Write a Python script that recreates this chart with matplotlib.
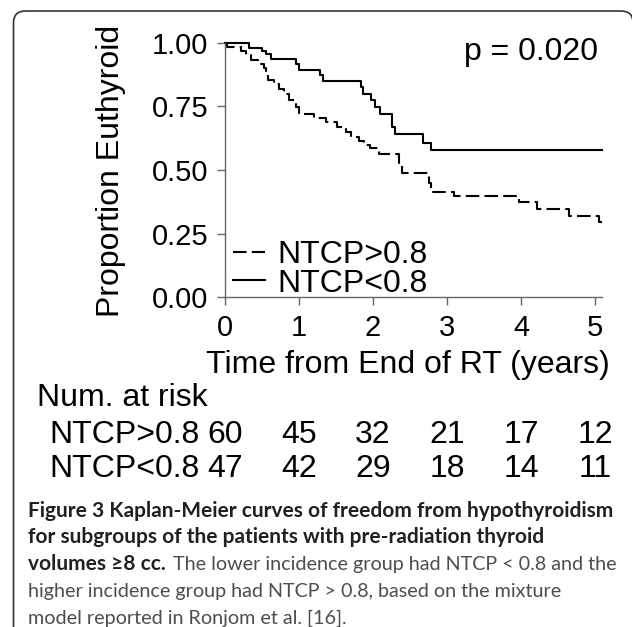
import numpy as np
import matplotlib
matplotlib.use("Agg")
import matplotlib.pyplot as plt
from matplotlib.patches import FancyBboxPatch
from matplotlib.transforms import blended_transform_factory

plt.rcParams['font.family'] = ['Liberation Sans', 'DejaVu Sans']

# -------------------------------
# Data
# -------------------------------

# NTCP<0.8 (solid), step times in years and survival after each step
t_low = [0.0, 0.33, 0.50, 0.55, 0.62, 0.96, 1.00, 1.28, 1.33, 1.84, 1.87,
         1.97, 2.03, 2.10, 2.25, 2.30, 2.68, 2.78, 5.09]
s_low = [1.0, 0.980, 0.968, 0.957, 0.936, 0.915, 0.894, 0.872, 0.851, 0.826,
         0.800, 0.774, 0.747, 0.718, 0.670, 0.640, 0.608, 0.577, 0.577]

# NTCP>0.8 (dashed)
t_high = [0.0, 0.03, 0.21, 0.28, 0.35, 0.44, 0.53, 0.55, 0.575, 0.665, 0.73,
          0.80, 0.87, 0.96, 1.00, 1.205, 1.36, 1.52, 1.63, 1.70, 1.81, 1.88,
          1.96, 2.08, 2.35, 2.39, 2.76, 2.78, 3.10, 3.97, 4.22, 4.65, 5.05, 5.09]
s_high = [1.0, 0.985, 0.967, 0.950, 0.933, 0.917, 0.900, 0.875, 0.852, 0.837,
          0.820, 0.800, 0.773, 0.747, 0.720, 0.706, 0.689, 0.669, 0.650, 0.630,
          0.613, 0.600, 0.585, 0.562, 0.527, 0.490, 0.450, 0.415, 0.396, 0.374,
          0.347, 0.320, 0.294, 0.294]

risk_times = [0, 1, 2, 3, 4, 5]
risk_high = [60, 45, 32, 21, 17, 12]
risk_low = [47, 42, 29, 18, 14, 11]

x_ticks = [0, 1, 2, 3, 4, 5]
y_ticks = [0.0, 0.25, 0.5, 0.75, 1.0]

label_high = "NTCP>0.8"
label_low = "NTCP<0.8"
p_text = "p = 0.020"

caption_bold_1 = "Figure 3 Kaplan-Meier curves of freedom from hypothyroidism"
caption_bold_2 = "for subgroups of the patients with pre-radiation thyroid"
caption_bold_3 = "volumes \u22658 cc."
caption_reg_3 = "The lower incidence group had NTCP < 0.8 and the"
caption_reg_4 = "higher incidence group had NTCP > 0.8, based on the mixture"
caption_reg_5 = "model reported in Ronjom et al. [16]."

# -------------------------------
# Figure / axes
# -------------------------------

W, H = 632, 627
fig = plt.figure(figsize=(W / 100, H / 100), dpi=100, facecolor='white')

def fx(px):
    return px / W

def fy(py):
    return 1 - py / H

FS = 23  # main text size

ax_left, ax_right = 225, 602.4
ax_top, ax_bottom = 42.7, 297.3
ax = fig.add_axes([fx(ax_left), fy(ax_bottom), fx(ax_right - ax_left),
                   (ax_bottom - ax_top) / H])

ax.plot(t_high, s_high, drawstyle='steps-post', color='black', lw=1.5,
        linestyle=(0, (6.5, 2.5)), clip_on=False, label=label_high)
ax.plot(t_low, s_low, drawstyle='steps-post', color='black', lw=1.5,
        clip_on=False, label=label_low)

ax.set_xlim(0, 5.1)
ax.set_ylim(0, 1.0)
ax.set_xticks(x_ticks)
ax.set_yticks(y_ticks)
ax.set_yticklabels([f"{v:.2f}" for v in y_ticks])

for side in ['top', 'right']:
    ax.spines[side].set_visible(False)
for side in ['left', 'bottom']:
    ax.spines[side].set_color('#666666')
    ax.spines[side].set_linewidth(1.0)

ax.tick_params(axis='both', direction='out', length=5.8, width=1.0,
               color='#666666', labelcolor='black', labelsize=21)
ax.tick_params(axis='x', pad=6.5)
ax.tick_params(axis='y', pad=6)

leg = ax.legend(loc='lower left', bbox_to_anchor=(0.021, -0.005),
                frameon=False, fontsize=FS, handlelength=1.0,
                handletextpad=0.38, labelspacing=-0.05, borderpad=0.0,
                borderaxespad=0.0)

# labels
fig.text(fx(111.5), fy(170.5), "Proportion Euthyroid", rotation=90,
         ha='center', va='center', fontsize=FS)
fig.text(fx(407.5), fy(373.3), "Time from End of RT (years)",
         ha='center', va='baseline', fontsize=FS)
fig.text(fx(598), fy(60), p_text, ha='right', va='baseline', fontsize=FS)

# number at risk table
fig.text(fx(37), fy(406), "Num. at risk", ha='left', va='baseline',
         fontsize=FS)
fig.text(fx(49), fy(443), label_high, ha='left', va='baseline', fontsize=FS)
fig.text(fx(49), fy(477), label_low, ha='left', va='baseline', fontsize=FS)
trans = blended_transform_factory(ax.transData, fig.transFigure)
for t, n in zip(risk_times, risk_high):
    ax.text(t, fy(443), str(n), transform=trans, ha='center',
            va='baseline', fontsize=FS, clip_on=False)
for t, n in zip(risk_times, risk_low):
    ax.text(t, fy(477), str(n), transform=trans, ha='center',
            va='baseline', fontsize=FS, clip_on=False)

# -------------------------------
# Caption
# -------------------------------

cap_font = ['Lato', 'DejaVu Sans']
bold_col = '#231f20'
reg_col = '#4d4d4d'

renderer = fig.canvas.get_renderer()

def width_at(txt, size, weight):
    probe = fig.text(0, 0, txt, fontsize=size, fontweight=weight,
                     family=cap_font)
    w = probe.get_window_extent(renderer).width
    probe.remove()
    return w

bold_size = 12 * 582 / width_at(caption_bold_1, 12, 'bold')
reg_size = 12 * 531 / width_at(caption_reg_4, 12, 'normal')

cap_x = fx(28.5)
baselines = [516.7, 543.3, 570.0, 596.7, 623.3]
fig.text(cap_x, fy(baselines[0]), caption_bold_1, fontsize=bold_size,
         fontweight='bold', family=cap_font, color=bold_col, va='baseline')
fig.text(cap_x, fy(baselines[1]), caption_bold_2, fontsize=bold_size,
         fontweight='bold', family=cap_font, color=bold_col, va='baseline')
b3 = fig.text(cap_x, fy(baselines[2]), caption_bold_3, fontsize=bold_size,
              fontweight='bold', family=cap_font, color=bold_col,
              va='baseline')
b3_right = b3.get_window_extent(renderer).x1
fig.text((b3_right + 7) / W, fy(baselines[2]), caption_reg_3,
         fontsize=reg_size, family=cap_font, color=reg_col, va='baseline')
fig.text(cap_x, fy(baselines[3]), caption_reg_4, fontsize=reg_size,
         family=cap_font, color=reg_col, va='baseline')
fig.text(cap_x, fy(baselines[4]), caption_reg_5, fontsize=reg_size,
         family=cap_font, color=reg_col, va='baseline')

# rounded frame around the figure panel (cut at the bottom)
frame = FancyBboxPatch((fx(13.5), -0.05), fx(633 - 13.5), (H - 11) / H + 0.05,
                       boxstyle="round,pad=0,rounding_size=0.019",
                       transform=fig.transFigure, facecolor='none',
                       edgecolor='#333333', linewidth=1.2, clip_on=False)
fig.patches.append(frame)

fig.savefig("out.png", dpi=100)
